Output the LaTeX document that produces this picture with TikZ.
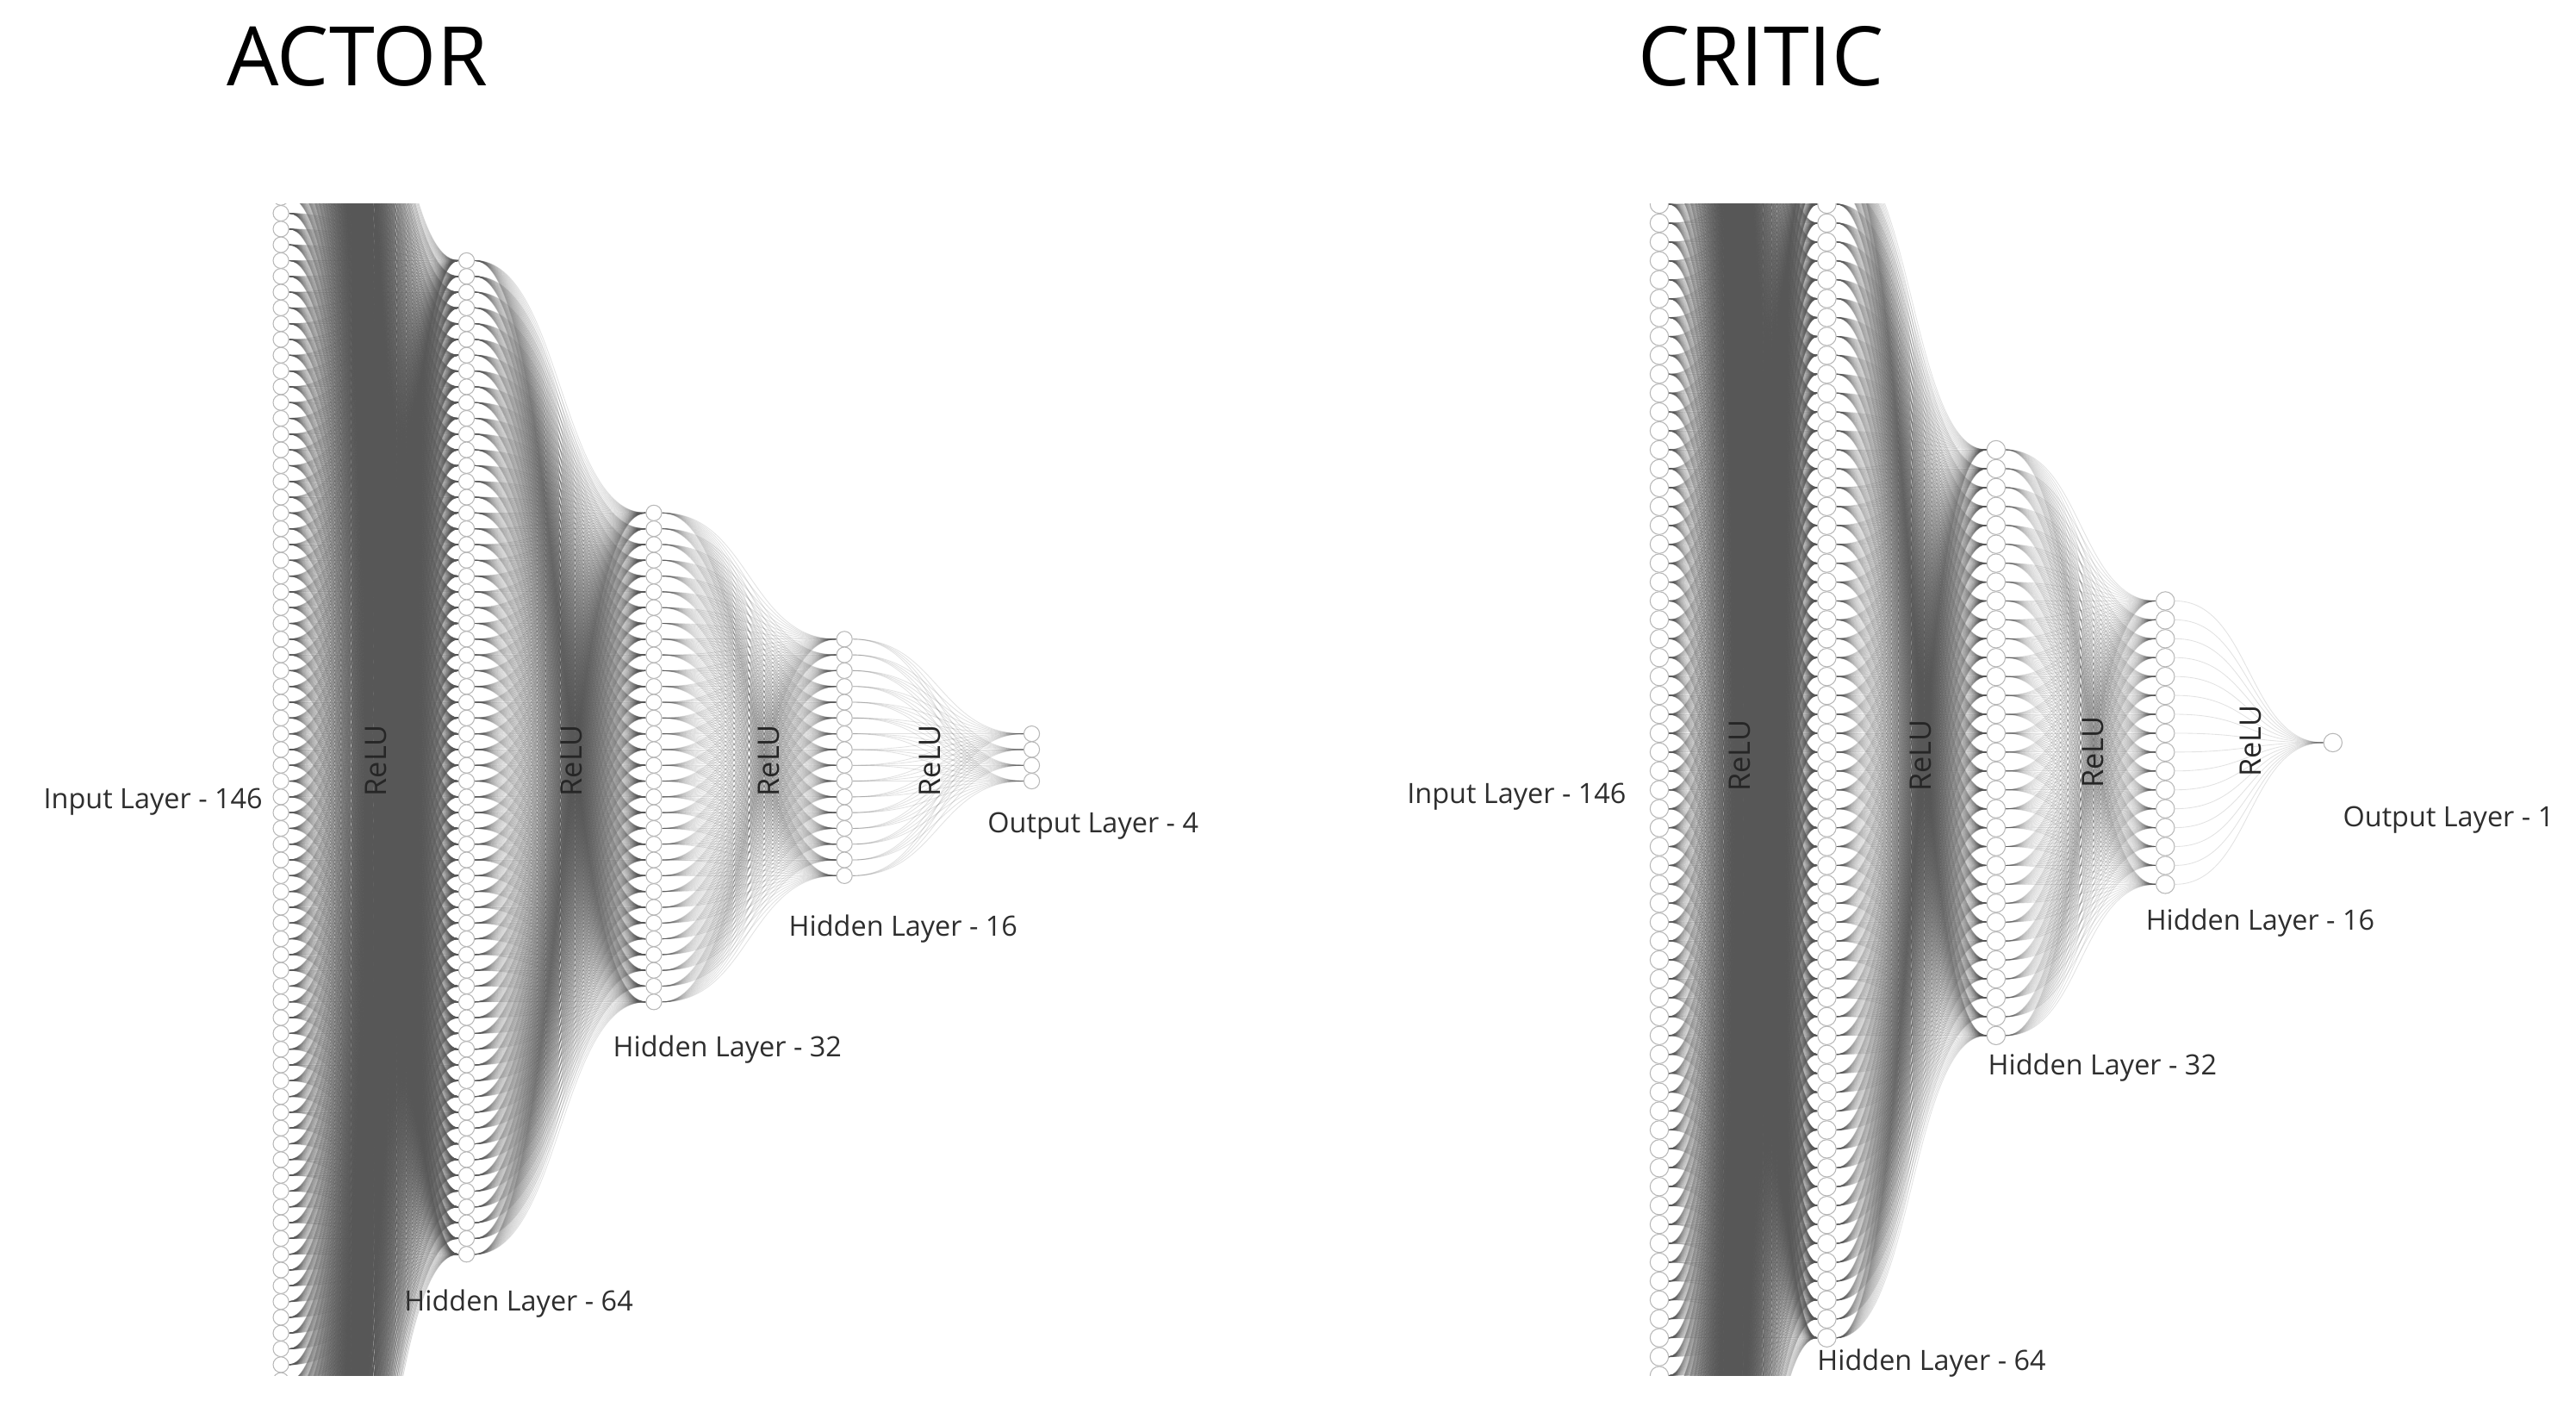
\documentclass[tikz,border=0pt]{standalone}
\usepackage{fontspec}
\setmainfont{Open Sans}
\pgfdeclarelayer{paper}
\pgfdeclarelayer{bg}
\pgfsetlayers{paper,bg,main}
% #1 net prefix, #2 from layer, #3 nodes in it, #4 to layer, #5 nodes in it,
% #6 control distance, #7 opacity, #8 step of the diagonal index
% edges i->j with the same i-j are parallel translates, so they share one path
\newcommand{\nnlink}[8]{%
  \pgfmathtruncatemacro{\dmin}{-(#5-1)}%
  \pgfmathtruncatemacro{\dmax}{#3-1}%
  \pgfmathtruncatemacro{\dnext}{\dmin+#8}%
  \foreach \dd in {\dmin,\dnext,...,\dmax}{%
    \pgfmathtruncatemacro{\jlo}{max(1,1-\dd)}%
    \pgfmathtruncatemacro{\jhi}{min(#5,#3-\dd)}%
    \gdef\nnpth{}%
    \foreach \jj in {\jlo,...,\jhi}{%
      \pgfmathtruncatemacro{\ii}{\jj+\dd}%
      \xdef\nnpth{\nnpth (#1#2-\ii.east) .. controls +(#6,0) and +(-#6,0) .. (#1#4-\jj.west)}}%
    \draw[wire,draw opacity=#7] \nnpth;
  }}
\begin{document}
\begin{tikzpicture}[x=1pt,y=-1pt,
  nd/.style={circle,draw=black!28,fill=white,line width=0.55pt,inner sep=0pt,minimum size=#1},
  wire/.style={line width=0.45pt,draw=black!66},
  lbl/.style={font=\fontsize{17}{20}\selectfont,text=black!82,inner sep=0pt},
  relu/.style={font=\fontsize{18}{21}\selectfont,text=black!85,rotate=90,inner sep=0pt},
  ttl/.style={font=\fontsize{50}{60}\selectfont,text=black,inner sep=0pt}]
\useasboundingbox (0,0) rectangle (1568,856);
\begin{pgfonlayer}{paper}
\fill[white] (0,0) rectangle (1568,856);
\end{pgfonlayer}

% ---------- nodes ----------
\begin{scope}
\clip (0,124) rectangle (1568,837);
\foreach \L/\x/\n in {0/171/146,1/284/64,2/398/32,3/514/16,4/628/4}
  \foreach \k in {1,...,\n}
    \node[nd=9.5] (A\L-\k) at (\x,{461+(\k-(\n+1)/2)*9.6}) {};
\foreach \L/\x/\n in {0/1010/146,1/1112/64,2/1215/32,3/1318/16,4/1420/1}
  \foreach \k in {1,...,\n}
    \node[nd=11.2] (C\L-\k) at (\x,{452+(\k-(\n+1)/2)*11.5}) {};
\end{scope}

% ---------- connectors ----------
\begin{pgfonlayer}{bg}
\begin{scope}
\clip (0,124) rectangle (1568,837);
\nnlink{A}{0}{146}{1}{64}{52}{0.24}{2}
\nnlink{A}{1}{64}{2}{32}{52}{0.17}{1}
\nnlink{A}{2}{32}{3}{16}{53}{0.17}{1}
\nnlink{A}{3}{16}{4}{4}{52}{0.17}{1}
\nnlink{C}{0}{146}{1}{64}{46}{0.24}{2}
\nnlink{C}{1}{64}{2}{32}{46}{0.17}{1}
\nnlink{C}{2}{32}{3}{16}{46}{0.17}{1}
\nnlink{C}{3}{16}{4}{1}{46}{0.17}{1}
\end{scope}
\end{pgfonlayer}

% ---------- titles ----------
\node[ttl,anchor=base west] (tA) at (138,52) {ACTOR};
\node[ttl,anchor=base west] (tC) at (997,52) {CRITIC};

% ---------- activation labels ----------
\node[relu] (rA1) at (229,463) {ReLU};
\node[relu] (rA2) at (348,463) {ReLU};
\node[relu] (rA3) at (468,463) {ReLU};
\node[relu] (rA4) at (566,463) {ReLU};
\node[relu] (rC1) at (1059,460) {ReLU};
\node[relu] (rC2) at (1169,460) {ReLU};
\node[relu] (rC3) at (1274,458) {ReLU};
\node[relu] (rC4) at (1370,451) {ReLU};

% ---------- layer labels ----------
\node[lbl,anchor=base east] (lA0) at (160,492) {Input Layer - 146};
\node[lbl,anchor=base west] (lA1) at (246,798) {Hidden Layer - 64};
\node[lbl,anchor=base west] (lA2) at (373,643) {Hidden Layer - 32};
\node[lbl,anchor=base west] (lA3) at (480,570) {Hidden Layer - 16};
\node[lbl,anchor=base west] (lA4) at (601,507) {Output Layer - 4};
\node[lbl,anchor=base east] (lC0) at (990,489) {Input Layer - 146};
\node[lbl,anchor=base west] (lC1) at (1106,834) {Hidden Layer - 64};
\node[lbl,anchor=base west] (lC2) at (1210,654) {Hidden Layer - 32};
\node[lbl,anchor=base west] (lC3) at (1306,566) {Hidden Layer - 16};
\node[lbl,anchor=base west] (lC4) at (1426,503) {Output Layer - 1};
\end{tikzpicture}
\end{document}
